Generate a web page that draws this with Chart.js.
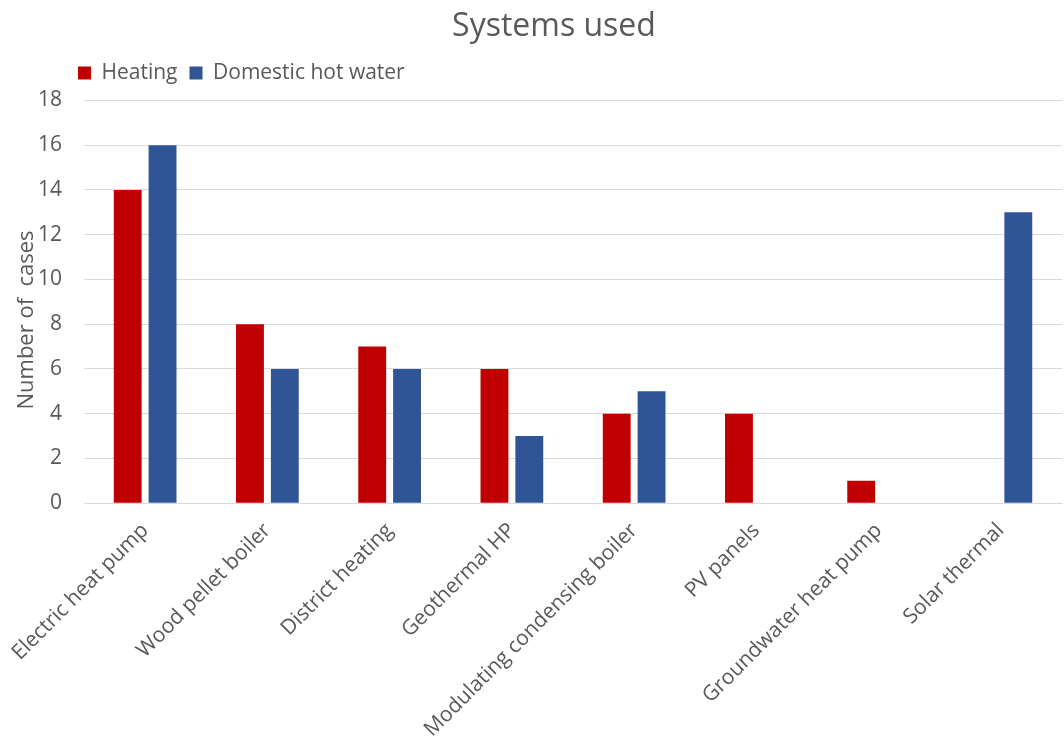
<!DOCTYPE html>
<html>
<head>
<meta charset="utf-8">
<script src="https://cdn.jsdelivr.net/npm/chart.js@4.4.1/dist/chart.umd.min.js"></script>
<style>
  html, body { margin: 0; padding: 0; background: #fff; }
  #wrap { width: 1064px; height: 740px; position: relative; }
</style>
</head>
<body>
<div id="wrap"><canvas id="chart"></canvas></div>
<script>
// Data
const categories = ['Electric heat pump', 'Wood pellet boiler', 'District heating', 'Geothermal HP',
  'Modulating condensing boiler', 'PV panels', 'Groundwater heat pump', 'Solar thermal'];
const heating = [14, 8, 7, 6, 4, 4, 1, 0];
const hotWater = [16, 6, 6, 3, 5, 0, 0, 13];
const yTicks = [0, 2, 4, 6, 8, 10, 12, 14, 16, 18];

const textColor = '#595959';
const gridColor = '#D9D9D9';
const fontFamily = '"Open Sans", "DejaVu Sans", sans-serif';
const legendPad = 12;

// small layout tweaks + y axis title drawn by hand so it can sit over the tick labels
const layoutPlugin = {
  id: 'layoutTweaks',
  beforeInit(chart) {
    // a bit more room under the legend
    const origFit = chart.legend.fit;
    chart.legend.fit = function () {
      origFit.call(this);
      this.height += 7;
    };
  },
  afterLayout(chart) {
    // push the legend in so it starts where the original does
    chart.legend.left = 78 - legendPad;
    // title sits a little right of the canvas centre in the original
    chart.titleBlock.left = 46;
  },
  afterDraw(chart) {
    const ctx = chart.ctx;
    ctx.save();
    ctx.translate(27, 320);
    ctx.rotate(-Math.PI / 2);
    ctx.fillStyle = textColor;
    ctx.font = '22px ' + fontFamily;
    ctx.textAlign = 'center';
    ctx.textBaseline = 'middle';
    ctx.fillText('Number of  cases', 0, 0);
    ctx.restore();
  }
};

const ctx = document.getElementById('chart').getContext('2d');
const chart = new Chart(ctx, {
  type: 'bar',
  data: {
    labels: categories,
    datasets: [{
      label: 'Heating',
      data: heating,
      backgroundColor: '#C00000'
    }, {
      label: 'Domestic hot water',
      data: hotWater,
      backgroundColor: '#2F5597'
    }]
  },
  options: {
    responsive: true,
    maintainAspectRatio: false,
    animation: false,
    datasets: {
      bar: { categoryPercentage: 0.57, barPercentage: 0.8 }
    },
    layout: { padding: { left: 16, right: 2, top: 8, bottom: 0 } },
    plugins: {
      title: {
        display: true,
        text: 'Systems used',
        color: textColor,
        font: { family: fontFamily, size: 32, weight: 'normal' },
        padding: { top: 0, bottom: 4 }
      },
      legend: {
        align: 'start',
        labels: {
          color: textColor,
          font: { family: fontFamily, size: 21 },
          boxWidth: 13,
          boxHeight: 13,
          padding: legendPad
        }
      },
      tooltip: { enabled: false }
    },
    scales: {
      x: {
        grid: { display: false, drawTicks: false },
        border: { color: gridColor },
        afterFit(scale) {
          // let the long rotated labels run off the bottom / left like the original
          scale.paddingLeft = 0;
          scale.height -= 17;
        },
        ticks: {
          color: textColor,
          font: { family: fontFamily, size: 21 },
          minRotation: 45,
          maxRotation: 45,
          padding: 15
        }
      },
      y: {
        min: 0,
        max: 18,
        afterBuildTicks(axis) {
          axis.ticks = yTicks.map(v => ({ value: v }));
        },
        grid: { color: gridColor, drawTicks: false },
        border: { display: false },
        ticks: {
          color: textColor,
          font: { family: fontFamily, size: 21 },
          padding: 22
        }
      }
    }
  },
  plugins: [layoutPlugin]
});
</script>
</body>
</html>
